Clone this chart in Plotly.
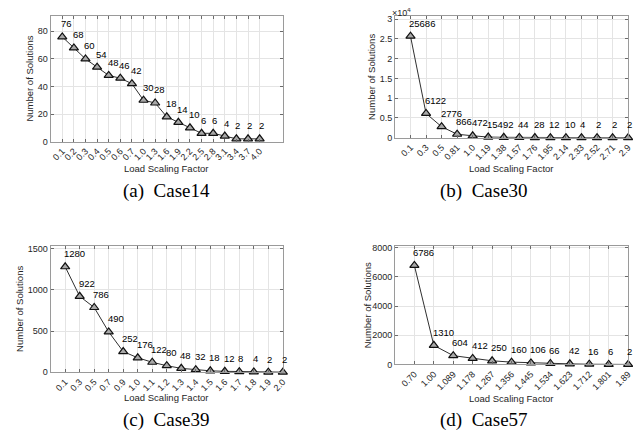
import plotly.graph_objects as go

W, H = 641, 440

# ---- data ----
case14_x = ["0.1", "0.2", "0.3", "0.4", "0.5", "0.6", "0.7", "1.0", "1.3", "1.6",
            "1.9", "2.2", "2.5", "2.8", "3.1", "3.4", "3.7", "4.0"]
case14_y = [76, 68, 60, 54, 48, 46, 42, 30, 28, 18, 14, 10, 6, 6, 4, 2, 2, 2]

case30_x = ["0.1", "0.3", "0.5", "0.81", "1.0", "1.19", "1.38", "1.57", "1.76", "1.95",
            "2.14", "2.33", "2.52", "2.71", "2.9"]
case30_y = [25686, 6122, 2776, 866, 472, 154, 92, 44, 28, 12, 10, 4, 2, 2, 2]

case39_x = ["0.1", "0.3", "0.5", "0.7", "0.9", "1.0", "1.1", "1.2", "1.3", "1.4",
            "1.5", "1.6", "1.7", "1.8", "1.9", "2.0"]
case39_y = [1280, 922, 786, 490, 252, 176, 122, 80, 48, 32, 18, 12, 8, 4, 2, 2]

case57_x = ["0.70", "1.00", "1.089", "1.178", "1.267", "1.356", "1.445", "1.534",
            "1.623", "1.712", "1.801", "1.89"]
case57_y = [6786, 1310, 604, 412, 250, 160, 106, 66, 42, 16, 6, 2]

captions = ["(a)  Case14", "(b)  Case30", "(c)  Case39", "(d)  Case57"]

y_ticks = [
    ([0, 20, 40, 60, 80], ["0", "20", "40", "60", "80"]),
    ([0, 5000, 10000, 15000, 20000, 25000, 30000], ["0", "0.5", "1", "1.5", "2", "2.5", "3"]),
    ([0, 500, 1000, 1500], ["0", "500", "1000", "1500"]),
    ([0, 2000, 4000, 6000, 8000], ["0", "2000", "4000", "6000", "8000"]),
]

# ---- layout geometry (pixels) ----
boxes = [  # x0, x1, ytop, ybottom
    (43, 277, 5, 133),
    (390, 625, 5, 129),
    (43, 277, 239, 368),
    (390, 625, 239, 360),
]
xranges = [(-1, 19), (-1, 14), (-1, 15), (-1, 11)]
xtitle_y = [160, 160, 394, 395]
ytitle_x = [22, 367, 12, 362]

series = [(case14_x, case14_y), (case30_x, case30_y), (case39_x, case39_y), (case57_x, case57_y)]

FONT = "Liberation Sans, Arial, sans-serif"
fig = go.Figure()
annotations = []
layout = {}

for i, ((xs, ys), (x0, x1, yt, yb)) in enumerate(zip(series, boxes)):
    n = "" if i == 0 else str(i + 1)
    xa, ya = "x" + n, "y" + n
    pos = list(range(len(xs)))
    fig.add_trace(go.Scatter(
        x=pos, y=ys, mode="lines+markers", xaxis=xa, yaxis=ya,
        line=dict(color="#303030", width=1),
        marker=dict(symbol="triangle-up", size=8, color="#a8a8a8",
                    line=dict(color="#111111", width=1.2)),
        showlegend=False, cliponaxis=False,
    ))
    for xv, yv in zip(pos, ys):
        annotations.append(dict(
            x=xv, y=yv, xref=xa, yref=ya, text=str(yv), showarrow=False,
            xanchor="left", yanchor="middle", xshift=-3, yshift=13,
            font=dict(family=FONT, size=9.5, color="#000000"),
        ))
    ax_common = dict(
        showline=True, linecolor="#9a9a9a", linewidth=1, mirror="allticks",
        ticks="inside", ticklen=3, tickcolor="#6a6a6a",
        showgrid=True, gridcolor="#e4e4e4", gridwidth=1, zeroline=False,
        tickfont=dict(family=FONT, size=9, color="#262626"),
    )
    layout["xaxis" + n] = dict(
        ax_common, range=list(xranges[i]),
        domain=[x0 / W, x1 / W], anchor=ya, tickangle=-45,
        tickmode="array", tickvals=pos, ticktext=xs,
    )
    tv, tt = y_ticks[i]
    layout["yaxis" + n] = dict(
        ax_common, range=[0, 1.2 * max(ys)],
        domain=[1 - yb / H, 1 - yt / H], anchor=xa,
        tickvals=tv, ticktext=tt,
    )
    annotations.append(dict(
        x=(x0 + x1) / 2 / W, y=1 - xtitle_y[i] / H, xref="paper", yref="paper",
        text="Load Scaling Factor", showarrow=False, xanchor="center", yanchor="middle",
        font=dict(family=FONT, size=9.5, color="#262626"),
    ))
    annotations.append(dict(
        x=ytitle_x[i] / W, y=1 - (yt + yb) / 2 / H, xref="paper", yref="paper",
        text="Number of Solutions", showarrow=False, textangle=-90,
        xanchor="center", yanchor="middle",
        font=dict(family=FONT, size=9.5, color="#262626"),
    ))

# captions
cap_pos = [(160, 183), (480, 183), (160, 417), (480, 417)]
for cap, (cx, cy) in zip(captions, cap_pos):
    annotations.append(dict(
        x=cx / W, y=1 - cy / H, xref="paper", yref="paper", text=cap,
        showarrow=False, xanchor="center", yanchor="middle",
        font=dict(family="Liberation Serif, Times New Roman, serif", size=19, color="#000000"),
    ))

# exponent label for Case30
annotations.append(dict(
    x=397 / W, y=1 - 1 / H, xref="paper", yref="paper", text="×10<sup>4</sup>",
    showarrow=False, xanchor="center", yanchor="middle",
    font=dict(family=FONT, size=9, color="#262626"),
))

fig.update_layout(
    width=W, height=H, margin=dict(l=0, r=0, t=0, b=0),
    paper_bgcolor="white", plot_bgcolor="white",
    annotations=annotations, **layout,
)

fig.write_html("out.html")
